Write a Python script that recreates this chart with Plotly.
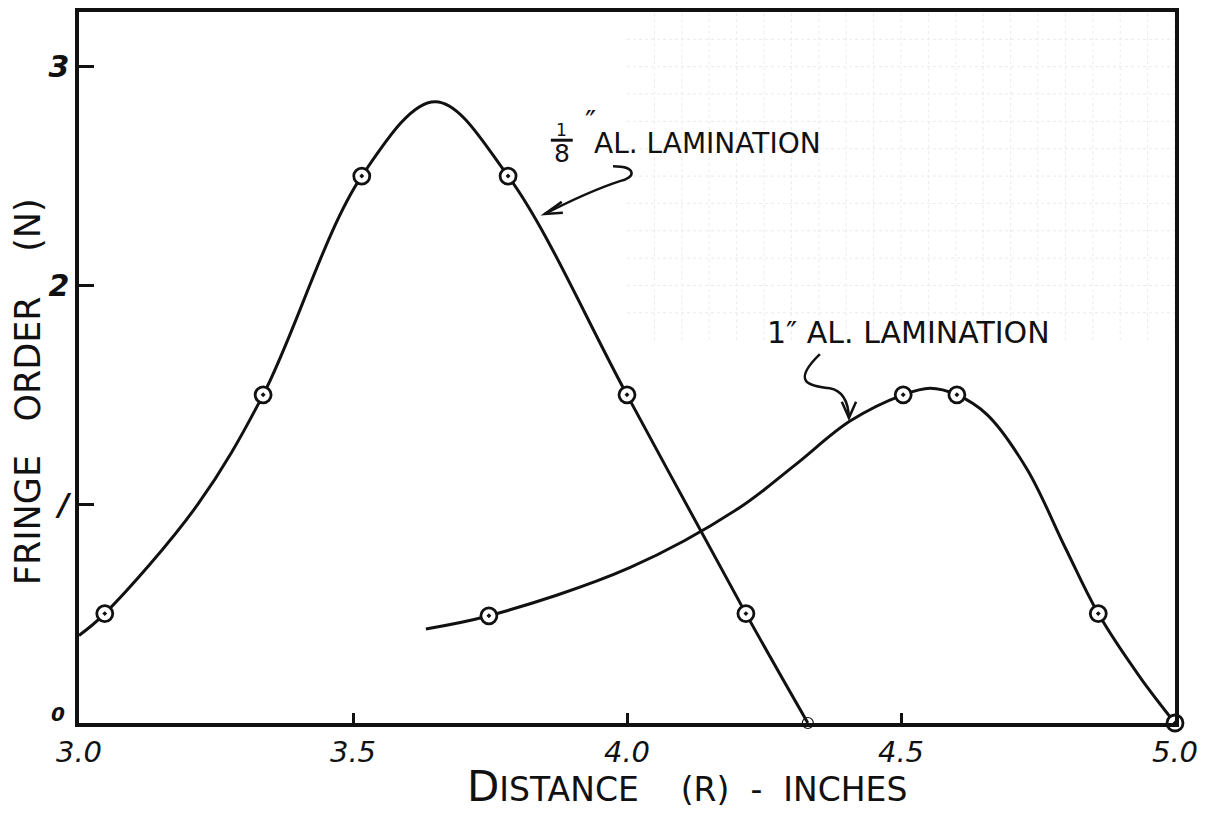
import plotly.graph_objects as go

# Fringe order vs. radial distance for two aluminium lamination thicknesses

# 1/8" lamination: circled readings
r_eighth_pts = [3.047, 3.336, 3.516, 3.783, 4.000, 4.217]
n_eighth_pts = [0.50, 1.50, 2.50, 2.50, 1.50, 0.50]
# 1/8" lamination: end point on the axis
r_eighth_end = [4.330]
n_eighth_end = [0.00]
# 1/8" lamination: faired curve
r_eighth_curve = [3.000, 3.047, 3.217, 3.336, 3.516, 3.650, 3.783, 4.000, 4.217, 4.330]
n_eighth_curve = [0.40, 0.50, 1.00, 1.50, 2.50, 2.84, 2.50, 1.50, 0.50, 0.00]

# 1" lamination: circled readings
r_one_pts = [3.748, 4.504, 4.602, 4.860, 5.000]
n_one_pts = [0.49, 1.50, 1.50, 0.50, 0.00]
# 1" lamination: faired curve
r_one_curve = [3.633, 3.748, 4.005, 4.203, 4.307, 4.407, 4.504, 4.553, 4.602, 4.657, 4.730,
               4.800, 4.860, 4.936, 5.000]
n_one_curve = [0.43, 0.49, 0.71, 0.98, 1.18, 1.38, 1.50, 1.53, 1.50, 1.41, 1.16,
               0.80, 0.50, 0.21, 0.00]

x_ticks = [3.0, 3.5, 4.0, 4.5, 5.0]
x_tick_text = ["3.0", "3.5", "4.0", "4.5", "5.0"]
y_ticks = [0, 1, 2, 3]
y_tick_text = ["", "/", "2", "3"]

INK = "#111111"
FONT = "DejaVu Sans"

fig = go.Figure()

# faint printed graph-paper ruling in the upper right
PAPER = "#ebebeb"
gx = 4.05
while gx < 5.0:
    fig.add_shape(type="line", xref="x", yref="y", x0=gx, x1=gx, y0=1.75, y1=3.25,
                  line=dict(color=PAPER, width=1, dash="dot"), layer="below")
    gx += 0.05
gy = 1.875
while gy < 3.25:
    fig.add_shape(type="line", xref="x", yref="y", x0=4.0, x1=5.0, y0=gy, y1=gy,
                  line=dict(color=PAPER, width=1, dash="dot"), layer="below")
    gy += 0.125

for rc, nc in [(r_eighth_curve, n_eighth_curve), (r_one_curve, n_one_curve)]:
    fig.add_trace(go.Scatter(
        x=rc, y=nc, mode="lines",
        line=dict(color=INK, width=3, shape="spline", smoothing=1.0),
        hoverinfo="skip", showlegend=False,
    ))

for rp, np_ in [(r_eighth_pts, n_eighth_pts), (r_one_pts, n_one_pts)]:
    fig.add_trace(go.Scatter(
        x=rp, y=np_, mode="markers", cliponaxis=False,
        marker=dict(symbol="circle-dot", size=16, color="white",
                    line=dict(color=INK, width=2.8)),
        showlegend=False,
    ))
fig.add_trace(go.Scatter(
    x=r_eighth_end, y=n_eighth_end, mode="markers", cliponaxis=False,
    marker=dict(symbol="circle-open", size=11, color=INK, line=dict(width=1.2)),
    showlegend=False,
))

# hand-drawn pointer arrows
fig.add_shape(type="path", xref="x", yref="y",
              path="M 3.9745,2.545 C 4.020,2.545 4.015,2.490 3.987,2.477 Q 3.930,2.430 3.850,2.327",
              line=dict(color=INK, width=2.5))
fig.add_shape(type="path", xref="x", yref="y",
              path="M 3.881,2.382 L 3.850,2.327 L 3.883,2.332",
              line=dict(color=INK, width=2.5))
fig.add_shape(type="path", xref="x", yref="y",
              path="M 4.352,1.686 C 4.300,1.560 4.330,1.540 4.370,1.530 Q 4.403,1.515 4.405,1.395",
              line=dict(color=INK, width=2.5))
fig.add_shape(type="path", xref="x", yref="y",
              path="M 4.392,1.468 L 4.405,1.395 L 4.418,1.468",
              line=dict(color=INK, width=2.5))

# fraction bar of 1/8
fig.add_shape(type="line", xref="x", yref="y", x0=3.861, x1=3.901, y0=2.664, y1=2.664,
              line=dict(color=INK, width=3))

fig.add_annotation(x=3.881, y=2.712, xref="x", yref="y", text="1", showarrow=False,
                   font=dict(family=FONT, size=17, color=INK))
fig.add_annotation(x=3.881, y=2.605, xref="x", yref="y", text="8", showarrow=False,
                   font=dict(family=FONT, size=25, color=INK))
fig.add_annotation(x=3.933, y=2.75, xref="x", yref="y", text="\u2033", showarrow=False,
                   font=dict(family=FONT, size=30, color=INK))
fig.add_annotation(x=3.936, y=2.65, xref="x", yref="y", xanchor="left",
                   text="AL. LAMINATION", showarrow=False,
                   font=dict(family=FONT, size=28, color=INK))
fig.add_annotation(x=4.252, y=1.786, xref="x", yref="y", xanchor="left",
                   text="1\u2033 AL. LAMINATION", showarrow=False,
                   font=dict(family=FONT, size=30, color=INK))

# zero of the vertical scale, written just above the corner
fig.add_annotation(xref="paper", yref="paper", x=-0.019, y=0.013,
                   xanchor="center", yanchor="middle", showarrow=False,
                   text="0", font=dict(family=FONT, size=20, color=INK, style="italic",
                                       weight="bold"))

# axis titles
fig.add_annotation(xref="paper", yref="paper", x=0.5545, y=-0.089,
                   xanchor="center", yanchor="middle", showarrow=False,
                   text="<span style='font-size:42px'>D</span>ISTANCE\u00a0\u00a0\u00a0 (R)\u00a0 -\u00a0 INCHES",
                   font=dict(family=FONT, size=33, color=INK))
fig.add_annotation(xref="paper", yref="paper", x=-0.047, y=0.466,
                   xanchor="center", yanchor="middle", showarrow=False,
                   textangle=-90,
                   text="FRINGE\u00a0\u00a0 ORDER\u00a0\u00a0\u00a0 (N)",
                   font=dict(family=FONT, size=35, color=INK))

fig.update_xaxes(
    range=[3.0, 5.0], tickvals=x_ticks, ticktext=x_tick_text,
    ticks="inside", ticklen=10, tickwidth=3, tickcolor=INK,
    tickfont=dict(family=FONT, size=29, color=INK, style="italic"),
    showline=True, linewidth=3.5, linecolor=INK, mirror=True,
    showgrid=False, zeroline=False,
)
fig.update_yaxes(
    range=[0, 3.25], tickvals=y_ticks, ticktext=y_tick_text,
    ticks="inside", ticklen=15, tickwidth=3, tickcolor=INK,
    tickfont=dict(family=FONT, size=30, color=INK, style="italic", weight="bold"),
    showline=True, linewidth=3.5, linecolor=INK, mirror=True,
    showgrid=False, zeroline=False,
)

fig.update_layout(
    width=1206, height=813,
    margin=dict(l=79, r=30, t=8, b=90),
    paper_bgcolor="white", plot_bgcolor="white",
    showlegend=False,
)

fig.write_html("out.html")
